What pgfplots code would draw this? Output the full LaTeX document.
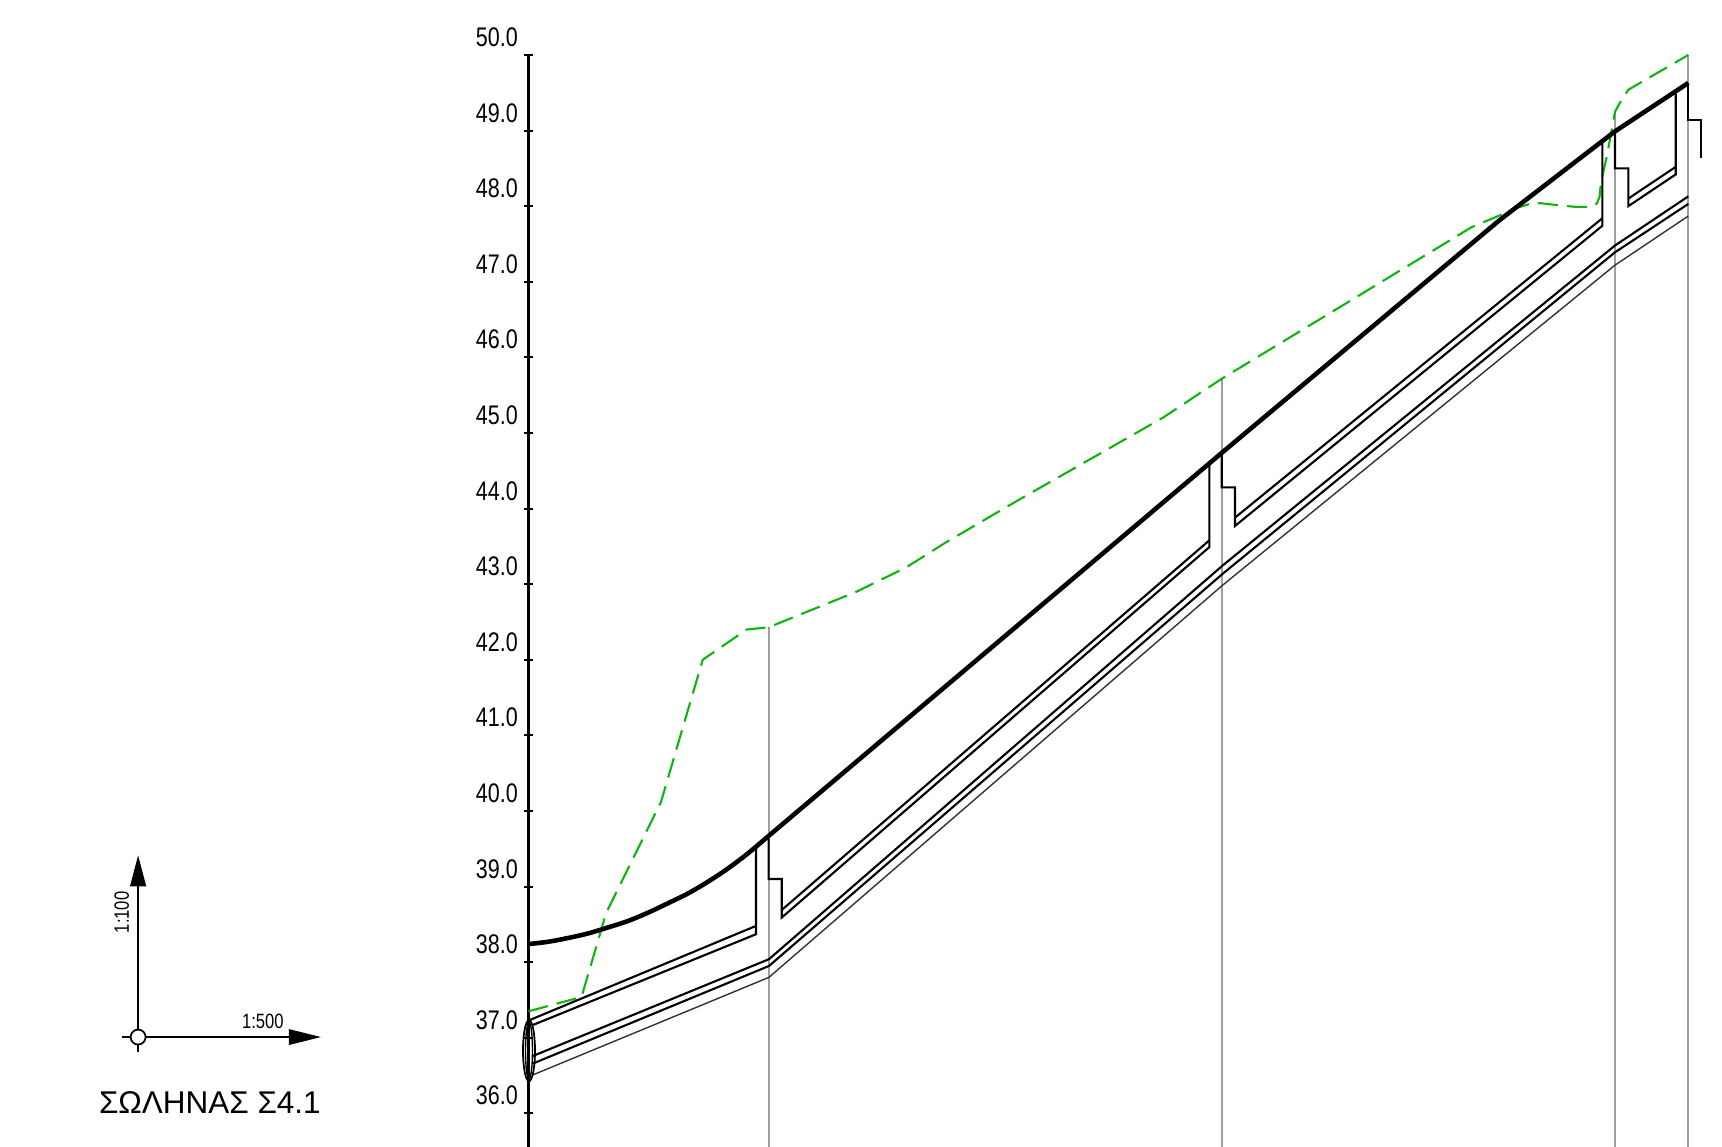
\documentclass[border=0pt]{standalone}
\usepackage{fontspec}
\setmainfont{Liberation Sans}
\newfontfamily\narrow[FakeStretch=0.8]{Liberation Sans}
\usepackage{pgfplots}
\pgfplotsset{compat=1.18}
\definecolor{ground}{RGB}{15,180,15}
\begin{document}
\begin{tikzpicture}
\useasboundingbox (0,0) rectangle (17.22cm,11.47cm);
\begin{axis}[
    at={(5.285cm,0cm)}, anchor=south west,
    scale only axis,
    width=11.935cm, height=10.92cm,
    xmin=528.5, xmax=1722,
    ymin=35.556, ymax=50,
    axis x line=none,
    axis y line=left,
    y axis line style={-, line width=0.65pt},
    ytick={36,37,...,50},
    minor tick num=0,
    tick align=center,
    major tick length=0.085cm,
    tick style={black, line width=0.55pt},
    /pgf/number format/assume math mode=true,
    yticklabel style={font=\narrow\fontsize{7.65}{8}\selectfont, /pgf/number format/fixed, /pgf/number format/fixed zerofill, /pgf/number format/precision=1, yshift=0.178cm, xshift=0.06cm},
    clip=false,
]
% section verticals
\addplot[gray!75, line width=0.6pt] coordinates {(769,35.556) (769,42.43)};
\addplot[gray!75, line width=0.6pt] coordinates {(1222,35.556) (1222,45.72)};
\addplot[gray!75, line width=0.6pt] coordinates {(1615,35.556) (1615,49.25)};
\addplot[gray!75, line width=0.6pt] coordinates {(1688.3,35.556) (1688.3,50)};

% existing ground
\addplot[ground, line width=0.6pt, dash pattern=on 5.7pt off 2.6pt] coordinates {
    (528.5,37.35) (581.5,37.54) (606.1,38.65) (661,40.12) (702.7,42.0) (746.6,42.40)
    (768.6,42.43) (856.4,42.90) (905.9,43.22) (944.3,43.54) (1010.2,44.05) (1163.9,45.21)
    (1222,45.72) (1471.3,47.72) (1500,47.88) (1515,47.97) (1530,48.03) (1540,48.04)
    (1560,48.01) (1576.7,47.99) (1590,47.99) (1594,48.00) (1597,48.04) (1599.5,48.12)
    (1600.5,48.25) (1602,48.38) (1606.7,48.65) (1611.7,49.01) (1615,49.25) (1620,49.37)
    (1628.3,49.54) (1688.3,50.00)
};

% road surface
\addplot[black, line width=1.3pt, smooth] coordinates {
    (528.5,38.24) (548,38.27) (568,38.32) (588,38.38) (608,38.46) (628,38.545)
    (648,38.655) (668,38.78) (688,38.91) (708,39.065) (728,39.24) (748,39.44) (768.6,39.67)
};
\addplot[black, line width=1.3pt] coordinates {
    (768.6,39.67) (1222,44.74) (1500,47.82) (1615,48.99) (1688.3,49.63)
};

% trench, upper edges
\addplot[black, line width=0.6pt] coordinates {(528.8,37.23) (756,38.48)};
\addplot[black, line width=0.6pt] coordinates {(781.7,38.69) (1209.3,43.58)};
\addplot[black, line width=0.6pt] coordinates {(1235,43.88) (1602.3,47.84)};
\addplot[black, line width=0.6pt] coordinates {(1628.3,48.10) (1675.7,48.52)};

% trench, lower edges with the steps
\addplot[black, line width=0.6pt] coordinates {(533,37.17) (756,38.37) (756,39.56)};
\addplot[black, line width=0.6pt] coordinates {(768.6,39.66) (768.6,39.10) (781.7,39.10) (781.7,38.59) (1209.3,43.49) (1209.3,44.58)};
\addplot[black, line width=0.6pt] coordinates {(1221.7,44.74) (1221.7,44.28) (1235,44.28) (1235,43.77) (1602.3,47.74) (1602.3,48.88)};
\addplot[black, line width=0.6pt] coordinates {(1615,48.99) (1615,48.50) (1628.3,48.50) (1628.3,48.00) (1675.7,48.42) (1675.7,49.49)};
\addplot[black, line width=0.6pt] coordinates {(1688.3,49.63) (1688.3,49.14) (1701,49.14) (1701,48.64)};

% pipe
\addplot[black, line width=0.6pt] coordinates {(533,36.76) (769,38.04) (1222,43.24) (1615,47.48) (1688.3,48.13)};
\addplot[black, line width=0.6pt] coordinates {(533,36.66) (769,37.95) (1222,43.13) (1615,47.39) (1688.3,48.03)};
\addplot[black!80, line width=0.4pt] coordinates {(533,36.51) (769,37.80) (1222,42.98) (1615,47.22) (1688.3,47.87)};

% pipe end
\draw[black, line width=0.5pt] (axis cs:529,36.83) ellipse [x radius=0.06cm, y radius=0.305cm];
\draw[black, line width=0.4pt] (axis cs:529,36.83) ellipse [x radius=0.035cm, y radius=0.28cm];
\end{axis}

% scale glyph, in reference pixels
\begin{scope}[x=0.01cm, y=-0.01cm, shift={(0cm,11.47cm)}]
\draw[line width=0.5pt] (138.2,1053) -- (138.2,887);
\fill (130,887) -- (138.2,856) -- (146.4,887) -- cycle;
\draw[line width=0.5pt] (121.8,1037.7) -- (289,1037.7);
\fill (289,1029.7) -- (321,1037.7) -- (289,1045.7) -- cycle;
\filldraw[fill=white, line width=0.5pt] (138.2,1037.7) circle [radius=7.5];
\node[rotate=90, inner sep=0pt, font=\narrow\fontsize{5.9}{7}\selectfont] at (121.8,913) {1:100};
\node[inner sep=0pt, font=\narrow\fontsize{5.9}{7}\selectfont] at (263,1022) {1:500};
\node[inner sep=0pt, font=\fontsize{8.95}{10}\selectfont] at (210,1103) {ΣΩΛΗΝΑΣ Σ4.1};
\end{scope}
\end{tikzpicture}
\end{document}
